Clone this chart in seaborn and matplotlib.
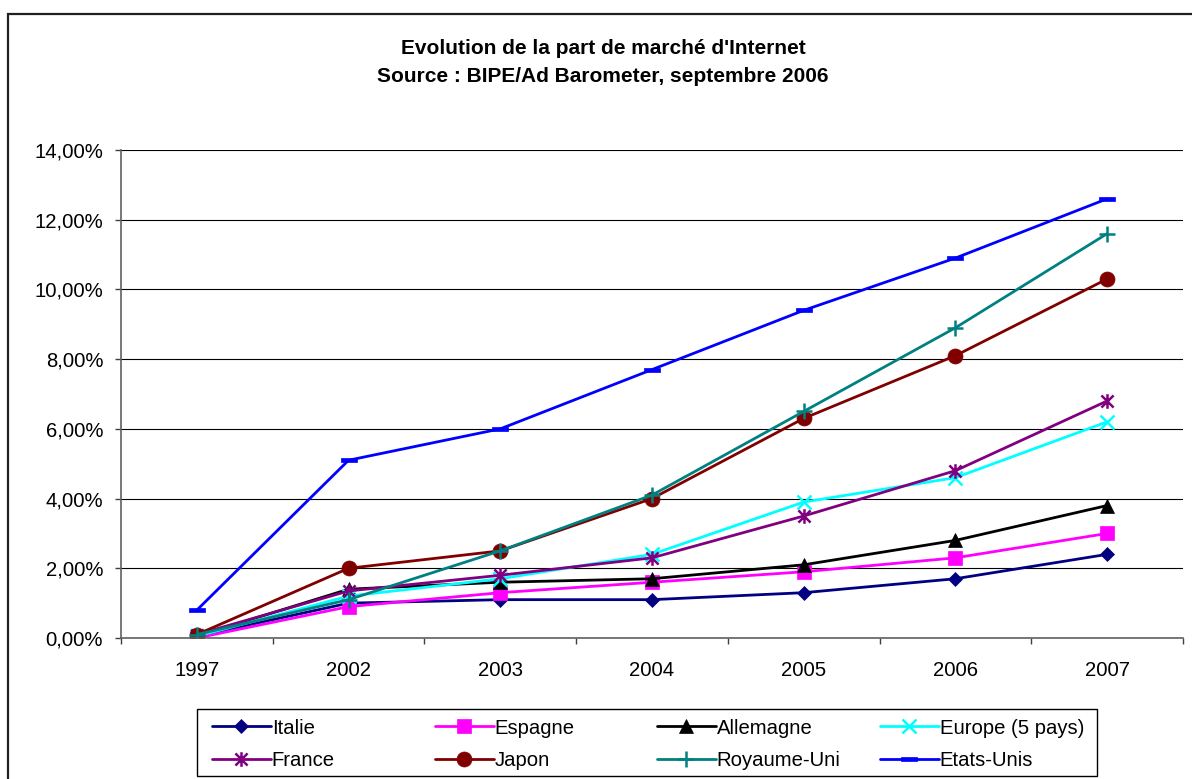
import numpy as np
import pandas as pd
import matplotlib
matplotlib.use("Agg")
import matplotlib.pyplot as plt
from matplotlib.path import Path
from matplotlib.patches import Rectangle
from matplotlib.ticker import FuncFormatter, FixedLocator, NullFormatter
import seaborn as sns

# --- data (market share of Internet, %) ---
years = ["1997", "2002", "2003", "2004", "2005", "2006", "2007"]
italie = [0.05, 1.0, 1.1, 1.1, 1.3, 1.7, 2.4]
espagne = [0.0, 0.9, 1.3, 1.6, 1.9, 2.3, 3.0]
allemagne = [0.05, 1.4, 1.6, 1.7, 2.1, 2.8, 3.8]
europe = [0.05, 1.2, 1.7, 2.4, 3.9, 4.6, 6.2]
france = [0.1, 1.35, 1.8, 2.3, 3.5, 4.8, 6.8]
japon = [0.1, 2.0, 2.5, 4.0, 6.3, 8.1, 10.3]
royaume_uni = [0.1, 1.1, 2.5, 4.1, 6.5, 8.9, 11.6]
etats_unis = [0.8, 5.1, 6.0, 7.7, 9.4, 10.9, 12.6]

series_names = ["Italie", "Espagne", "Allemagne", "Europe (5 pays)",
                "France", "Japon", "Royaume-Uni", "Etats-Unis"]
series_values = [italie, espagne, allemagne, europe,
                 france, japon, royaume_uni, etats_unis]

title_lines = ["Evolution de la part de marché d'Internet",
               "Source : BIPE/Ad Barometer, septembre 2006"]

# --- styling ---
sns.set_theme(style="white")
plt.rcParams["font.family"] = ["Liberation Sans", "DejaVu Sans"]

FS = 14.6  # tick / legend text size

star = Path([(-1, -1), (1, 1), (-1, 1), (1, -1), (0, -1.2), (0, 1.2)],
            [Path.MOVETO, Path.LINETO, Path.MOVETO, Path.LINETO,
             Path.MOVETO, Path.LINETO])
dash = Path([(-1, -0.3), (1, -0.3), (1, 0.3), (-1, 0.3), (-1, -0.3)],
            [Path.MOVETO, Path.LINETO, Path.LINETO, Path.LINETO, Path.CLOSEPOLY])

styles = {
    "Italie": dict(color="#000080", marker="D", markersize=7.5, fill=True),
    "Espagne": dict(color="#FF00FF", marker="s", markersize=9.5, fill=True),
    "Allemagne": dict(color="#000000", marker="^", markersize=10.5, fill=True),
    "Europe (5 pays)": dict(color="#00FFFF", marker="x", markersize=9.5, fill=False),
    "France": dict(color="#800080", marker=star, markersize=10.5, fill=False),
    "Japon": dict(color="#800000", marker="o", markersize=10.8, fill=True),
    "Royaume-Uni": dict(color="#008080", marker="+", markersize=11.5, fill=False),
    "Etats-Unis": dict(color="#0000FF", marker=dash, markersize=11.5, fill=True),
}

W, H = 1192, 779
fig = plt.figure(figsize=(W / 100, H / 100), dpi=100)
ax = fig.add_axes([121 / W, 1 - 638 / H, (1183 - 121) / W, (638 - 150) / H])

xpos = np.arange(len(years))
df = pd.DataFrame({name: vals for name, vals in zip(series_names, series_values)})
df["x"] = xpos

handles = {}
for name in series_names:
    st = styles[name]
    sns.lineplot(x=df["x"], y=df[name], ax=ax, color=st["color"], linewidth=2.0,
                 marker=st["marker"], markersize=st["markersize"],
                 markeredgecolor=st["color"],
                 markerfacecolor=st["color"] if st["fill"] else "none",
                 markeredgewidth=1.8 if not st["fill"] else 0.5,
                 label=name, legend=False)
    handles[name] = ax.lines[-1]

# axes & grid
ax.set_xlim(-0.5, len(years) - 0.5)
ax.set_ylim(0, 14)
ax.set_xlabel("")
ax.set_ylabel("")
ax.yaxis.set_major_locator(FixedLocator(np.arange(0, 15, 2)))
ax.yaxis.set_major_formatter(FuncFormatter(lambda v, p: f"{v:.2f}%".replace(".", ",")))
ax.xaxis.set_major_locator(FixedLocator(xpos))
ax.set_xticklabels(years)
ax.xaxis.set_minor_locator(FixedLocator(np.arange(-0.5, len(years), 1.0)))
ax.xaxis.set_minor_formatter(NullFormatter())
ax.tick_params(axis="x", which="major", length=0, pad=16.5, labelsize=FS)
ax.tick_params(axis="x", which="minor", length=4.3, width=1, color="#404040",
               direction="out", bottom=True)
ax.tick_params(axis="y", which="major", length=4.3, width=1, color="#404040",
               direction="out", left=True, pad=8.5, labelsize=FS)
for lab in ax.get_xticklabels() + ax.get_yticklabels():
    lab.set_color("black")
ax.grid(axis="y", color="#000000", linewidth=0.8)
ax.grid(axis="x", visible=False)
ax.set_axisbelow(True)
for side in ["top", "right"]:
    ax.spines[side].set_visible(False)
for side in ["left", "bottom"]:
    ax.spines[side].set_visible(True)
    ax.spines[side].set_color("#606060")
    ax.spines[side].set_linewidth(1.2)

# title
for line, ypx in zip(title_lines, [48, 76]):
    fig.text(603 / W, 1 - ypx / H, line, ha="center", va="center",
             fontsize=15, fontweight="bold", color="black")

# legend: four equal-width columns inside one frame
columns = [["Italie", "France"], ["Espagne", "Japon"],
           ["Allemagne", "Royaume-Uni"], ["Europe (5 pays)", "Etats-Unis"]]
col_x = [212, 435, 657, 880]
for names, cx in zip(columns, col_x):
    lg = fig.legend([handles[n] for n in names], names, loc="upper left",
                    bbox_to_anchor=(cx / W, 1 - 718.5 / H), frameon=False,
                    fontsize=FS, handlelength=2.9, handletextpad=0.05,
                    labelspacing=0.68, borderpad=0, borderaxespad=0)
    for t in lg.get_texts():
        t.set_color("black")

fig.patches.append(Rectangle((197 / W, 1 - 776 / H), 900 / W, 67 / H,
                             transform=fig.transFigure, fill=False,
                             edgecolor="black", linewidth=1.0))

# chart border
fig.patches.append(Rectangle((8 / W, -0.05), 1.1, 1 - 14 / H + 0.05,
                             transform=fig.transFigure, fill=False,
                             edgecolor="#202020", linewidth=1.6))

fig.savefig("out.png", dpi=100)
